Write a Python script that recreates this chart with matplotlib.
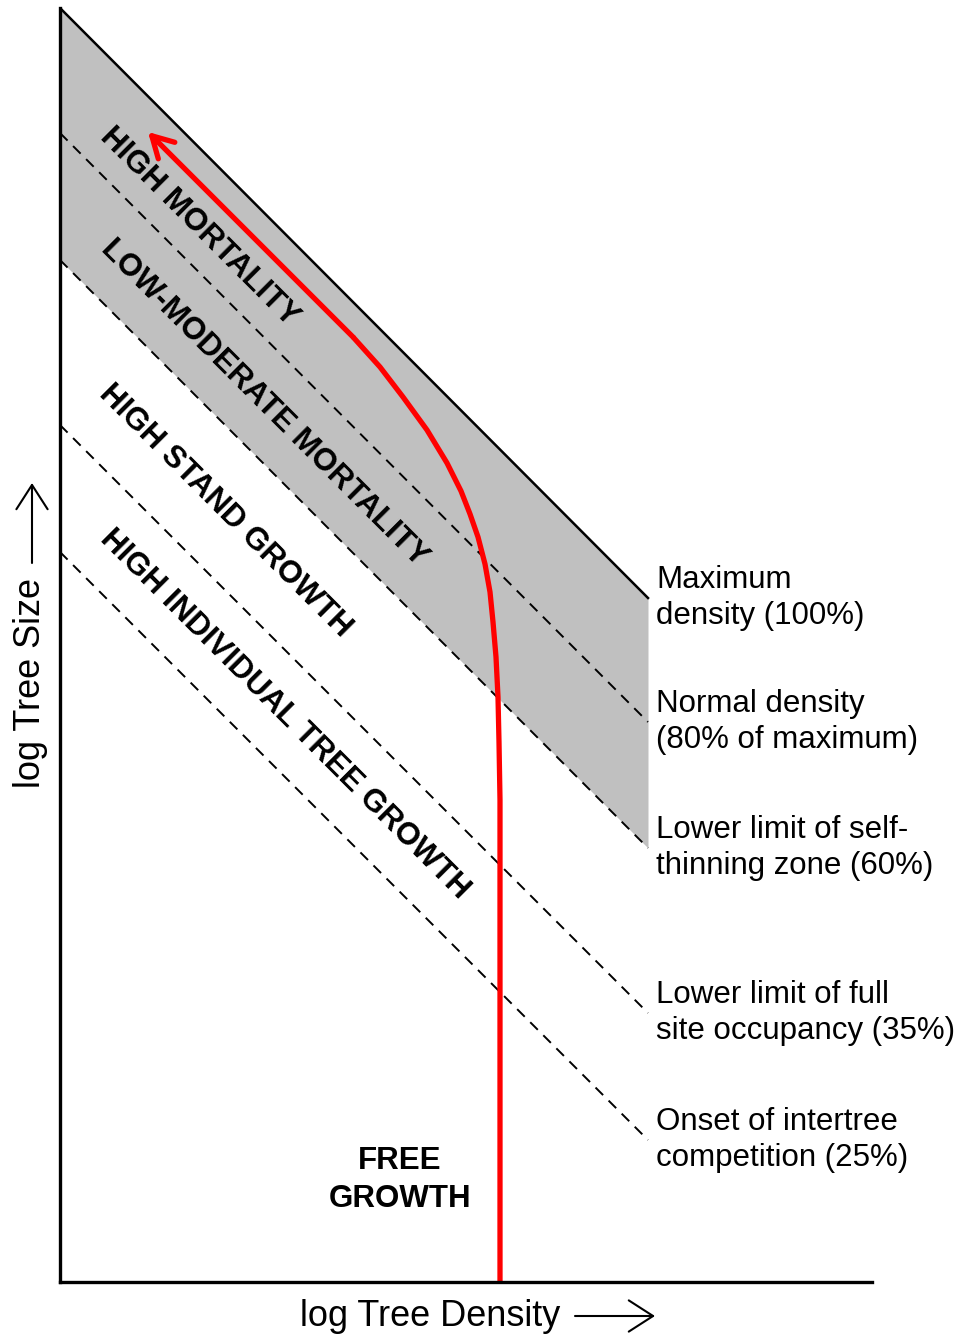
import matplotlib
matplotlib.use("Agg")
import matplotlib.pyplot as plt
import numpy as np

plt.rcParams['font.family'] = ['Liberation Sans', 'DejaVu Sans']

# density lines (log density on x, log size on y), endpoints
line_x = [0, 588]
max_y = [1274, 684]
normal_y = [1149, 560]
selfthin_y = [1022, 434]
fullsite_y = [857, 269]
onset_y = [730, 142]

line_labels = ["Maximum\ndensity (100%)",
               "Normal density\n(80% of maximum)",
               "Lower limit of self-\nthinning zone (60%)",
               "Lower limit of full\nsite occupancy (35%)",
               "Onset of intertree\ncompetition (25%)"]

# stand trajectory (red curve)
traj_x = [440, 440, 439, 438, 436, 433, 430, 425, 418, 410, 401, 387, 367, 343, 320, 293, 88]
traj_y = [0, 482, 540, 585, 625, 660, 690, 718, 745, 768, 791, 819, 852, 885, 915, 945, 1150]

zone_labels = ["HIGH MORTALITY", "LOW-MODERATE MORTALITY",
               "HIGH STAND GROWTH", "HIGH INDIVIDUAL TREE GROWTH"]
zone_x = [139, 204, 165, 225]
zone_y = [1055, 879, 771, 568]

fig = plt.figure(figsize=(9.63, 13.37), dpi=100)
ax = fig.add_axes([60 / 963, 55 / 1337, 812 / 963, 1274 / 1337])
ax.set_xlim(0, 812)
ax.set_ylim(0, 1274)

ax.fill_between(line_x, selfthin_y, max_y, color="#c0c0c0", lw=0)
ax.plot(line_x, max_y, color="black", lw=1.8)
for ys in [normal_y, selfthin_y, fullsite_y, onset_y]:
    ax.plot(line_x, ys, color="black", lw=1.4, dashes=(5.5, 4))

ends = [max_y[1], normal_y[1], selfthin_y[1], fullsite_y[1], onset_y[1]]
for lab, ye in zip(line_labels, ends):
    ax.text(line_x[1] + 8, ye, lab, fontsize=22.5, ha="left", va="center",
            linespacing=1.3, clip_on=False)

ax.plot(traj_x[:-1], traj_y[:-1], color="red", lw=3.8, solid_capstyle="butt",
        solid_joinstyle="round")
ax.annotate("", xy=(traj_x[-1], traj_y[-1]), xytext=(traj_x[-2], traj_y[-2]),
            arrowprops=dict(arrowstyle="->, head_length=0.5, head_width=0.28",
                            color="red", lw=3.8, shrinkA=0, shrinkB=0,
                            mutation_scale=30))

for lab, x, y in zip(zone_labels, zone_x, zone_y):
    ax.text(x, y, lab, fontsize=22.5, fontweight="bold", rotation=-45,
            rotation_mode="anchor", ha="center", va="center")

ax.text(340, 102, "FREE\nGROWTH", fontsize=22.5, fontweight="bold",
        ha="center", va="center", linespacing=1.35)

for s in ["top", "right"]:
    ax.spines[s].set_visible(False)
for s in ["left", "bottom"]:
    ax.spines[s].set_linewidth(2.4)
ax.set_xticks([])
ax.set_yticks([])

# axis titles with long arrows
fig.text(430 / 963, 1 - 1316 / 1337, "log Tree Density", fontsize=26,
         ha="center", va="center")
fig.text(30 / 963, 1 - 683 / 1337, "log Tree Size", fontsize=26,
         ha="center", va="center", rotation=90)
arrow_kw = dict(arrowstyle="->, head_length=0.7, head_width=0.45",
                color="black", lw=1.5, shrinkA=0, shrinkB=0, mutation_scale=25)
fig.add_artist(matplotlib.patches.FancyArrowPatch(
    (575 / 963, 1 - 1316 / 1337), (655 / 963, 1 - 1316 / 1337),
    transform=fig.transFigure, **arrow_kw))
fig.add_artist(matplotlib.patches.FancyArrowPatch(
    (32 / 963, 1 - 563 / 1337), (32 / 963, 1 - 483 / 1337),
    transform=fig.transFigure, **arrow_kw))

fig.savefig("out.png", dpi=100)
